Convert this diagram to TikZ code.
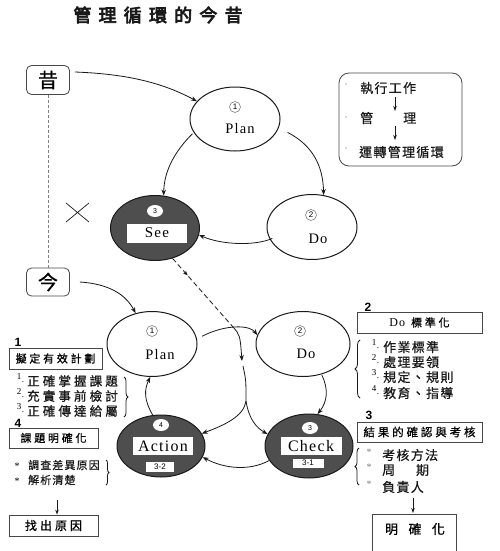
\documentclass[tikz,border=0pt]{standalone}
\usepackage{fontspec}
\setmainfont{Liberation Serif}
\newfontfamily\cjk{Noto Sans CJK TC}[FakeBold=0.8]
\newfontfamily\cjkt{Noto Sans CJK TC}[FakeBold=4,LetterSpace=40]
\newfontfamily\cjkw{Noto Sans CJK TC}[FakeBold=0.8,LetterSpace=25]
\newfontfamily\cjks{Noto Sans CJK TC}[FakeBold=0.6,LetterSpace=10]
\newfontfamily\lat{Liberation Serif}[LetterSpace=8]
\newfontfamily\arb{Liberation Sans}
\usetikzlibrary{arrows.meta,decorations.pathreplacing,decorations.markings,shapes.geometric}
\newcommand\myfs[1]{\fontsize{#1}{#1}\selectfont}
\definecolor{darkfill}{RGB}{78,78,78}
\definecolor{ink}{RGB}{25,25,25}
\begin{document}
\begin{tikzpicture}[x=1pt,y=-1pt,
  arr/.style={-{Stealth[length=6pt,width=4.5pt]}, line width=0.8pt, ink},
  ell/.style={ellipse, draw=ink, line width=1pt, inner sep=0pt},
  dark/.style={ell, fill=darkfill},
  cnum/.style={circle, draw=gray, line width=0.6pt, inner sep=0pt, minimum size=11pt, font=\arb\myfs{8}},
  wnum/.style={ellipse, fill=white, inner sep=0pt, minimum width=16pt, minimum height=12pt, font=\arb\myfs{7}},
  wrect/.style={rectangle, fill=white, inner sep=0pt},
  lbox/.style={rectangle, draw=ink!80, line width=0.8pt, inner sep=0pt},
  bnum/.style={font=\arb\bfseries\myfs{12}, inner sep=0pt},
  txt/.style={font=\cjks\myfs{13}, inner sep=0pt, anchor=west, text=ink},
  brc/.style={decorate, decoration={brace, amplitude=4pt}, line width=0.8pt, ink}
]
\useasboundingbox (0,0) rectangle (500,551);
\fill[white] (0,0) rectangle (500,551);

% title
\node[font=\cjkt\myfs{18}, text=ink] (title) at (158,15) {管理循環的今昔};

% past / present boxes
\node[lbox, rounded corners=5pt, minimum width=43pt, minimum height=29pt, font=\cjk\myfs{20}] (xi) at (48,80) {昔};
\node[lbox, rounded corners=5pt, minimum width=43pt, minimum height=28pt, font=\cjk\myfs{20}] (jin) at (48,282) {今};
\draw[gray, dashed, line width=0.8pt, dash pattern=on 3pt off 2pt] (xi.south) -- (jin.north);
\coordinate (xa) at (66,203); \coordinate (xb) at (89,222);
\coordinate (xc) at (66,222); \coordinate (xd) at (89,203);
\draw[ink, line width=0.7pt] (xa) -- (xb) (xc) -- (xd);

% top cycle
\node[ell, minimum width=90pt, minimum height=64pt] (P1) at (235,119) {};
\node[cnum] (p1n) at (235,107) {1};
\node[font=\lat\myfs{14.5}, inner sep=0pt] (p1t) at (240,129) {Plan};
\node[ell, minimum width=90pt, minimum height=65pt] (D1) at (312,227) {};
\node[cnum] (d1n) at (311,215) {2};
\node[font=\lat\myfs{14.5}, inner sep=0pt] (d1t) at (318,239) {Do};
\node[dark, minimum width=89pt, minimum height=65pt] (S1) at (155,228) {};
\node[wnum] (s1n) at (155,211) {3};
\node[wrect, minimum width=60pt, minimum height=19pt, font=\lat\myfs{15}] (s1t) at (157,233) {See};

\draw[arr] ([xshift=5pt,yshift=8pt]xi.east) .. controls (130,74) and (165,84) .. (P1.155);
\draw[arr] ([xshift=10pt,yshift=-2pt]P1.-15) .. controls (312,145) and (323,165) .. (D1.70);
\draw[arr] ([xshift=-2pt]P1.-160) .. controls (176,150) and (164,170) .. (S1.75);
\draw[arr] ([xshift=3pt]D1.-165) .. controls (255,246) and (222,245) .. (S1.-9);

% right info box
\node[lbox, rounded corners=10pt, minimum width=123pt, minimum height=93pt] (infobox) at (400.5,119.5) {};
\foreach \yy/\nm in {84/da,117/db,148/dc}{\node[circle, fill=gray!60, inner sep=0.6pt] (\nm) at (346,\yy) {};}
\node[txt] (exec) at (360,88) {執行工作};
\node[txt] (kan) at (360,118) {管};
\node[txt] (li) at (403,118) {理};
\node[txt] (run) at (359,152) {運轉管理循環};
\coordinate (ia1) at (395,97); \coordinate (ia2) at (395,111);
\coordinate (ib1) at (395,126); \coordinate (ib2) at (395,140);
\draw[arr, -{Stealth[length=5pt,width=3.5pt]}] (ia1) -- (ia2);
\draw[arr, -{Stealth[length=5pt,width=3.5pt]}] (ib1) -- (ib2);

% bottom cycle
\node[ell, minimum width=90pt, minimum height=65pt] (P2) at (152,344) {};
\node[cnum] (p2n) at (152,331) {1};
\node[font=\lat\myfs{14.5}, inner sep=0pt] (p2t) at (160,355) {Plan};
\node[ell, minimum width=94pt, minimum height=65pt] (D2) at (303,344) {};
\node[cnum] (d2n) at (300,331) {2};
\node[font=\lat\myfs{14.5}, inner sep=0pt] (d2t) at (306,354) {Do};
\node[dark, minimum width=88pt, minimum height=62pt] (A) at (161,446) {};
\node[wnum] (an) at (161,425) {4};
\node[wrect, minimum width=60pt, minimum height=18pt, font=\lat\myfs{16}] (at) at (163,446) {Action};
\node[wrect, minimum width=28pt, minimum height=10pt, font=\arb\myfs{8}] (as) at (160,467) {3-2};
\node[dark, minimum width=88pt, minimum height=64pt] (C) at (309,446) {};
\node[wnum] (cn) at (310,428) {3};
\node[wrect, minimum width=61pt, minimum height=18pt, font=\lat\myfs{16}] (ct) at (311,446) {Check};
\node[wrect, minimum width=31pt, minimum height=9pt, font=\arb\myfs{8}] (cs) at (308,463) {3-1};

\draw[arr] ([xshift=10pt]jin.east) .. controls (110,284) and (126,295) .. (P2.118);
\draw[arr] ([xshift=6pt]P2.10) .. controls (226,324) and (250,325) .. (D2.169);
\draw[arr] ([xshift=3pt]D2.-63) .. controls (329,390) and (327,402) .. (C.75);
\draw[arr] (C.200) .. controls (250,471) and (225,469) .. (A.-15);
\draw[arr] (A.105) .. controls (144,400) and (144,390) .. (P2.-93);

\coordinate (m1) at (233,327);
\coordinate (m2) at (242,361);
\coordinate (m3) at (243,366);
\coordinate (sp) at (246,401);
\draw[ink, line width=0.8pt, dash pattern=on 5pt off 3pt,
  postaction={decorate, decoration={markings, mark=at position 0.25 with {\arrow{Stealth[length=5pt,width=4pt]}}}}]
  (S1.-60) -- (m1);
\draw[arr] (m1) .. controls (240,335) .. (m2);
\draw[ink, line width=0.8pt] (m3) .. controls (246,380) .. (sp);
\draw[arr] (sp) .. controls (244,416) and (225,425) .. (A.17);
\draw[arr] (sp) .. controls (249,420) and (257,428) .. (C.164);

% left notes
\node[bnum] (n1) at (18,342) {1};
\node[lbox, minimum width=93pt, minimum height=21pt, font=\cjkw\myfs{11}] (plan) at (55.5,358.5) {擬定有效計劃};
\foreach \yy/\k/\t in {381/1/正確掌握課題, 396/2/充實事前檢討, 411/3/正確傳達給屬}{
  \node[font=\myfs{9}, inner sep=0pt] (ln\k) at (19,\yy-4) {\k};
  \node[font=\myfs{9}, inner sep=0pt] (ld\k) at (23,\yy+1) {.};
  \node[txt, font=\cjkw\myfs{12.5}] (lt\k) at (27,\yy) {\t};
}
\coordinate (lb1) at (124,377); \coordinate (lb2) at (124,417);
\draw[brc] (lb1) -- (lb2);
\node[bnum] (n4) at (18,423) {4};
\node[lbox, minimum width=89pt, minimum height=20pt, font=\cjkw\myfs{11}] (clar) at (53.5,438) {課題明確化};
\node[font=\myfs{10}, inner sep=0pt] (s1) at (17,466) {*};
\node[font=\myfs{10}, inner sep=0pt] (s2) at (17,481) {*};
\node[txt, font=\cjks\myfs{11}] (lq1) at (28,465) {調查差異原因};
\node[txt, font=\cjks\myfs{11}] (lq2) at (28,480) {解析清楚};
\coordinate (lb3) at (106,460); \coordinate (lb4) at (106,485);
\draw[brc, decoration={brace, amplitude=3pt}] (lb3) -- (lb4);
\node[lbox, minimum width=89pt, minimum height=21pt, font=\cjkw\myfs{12}] (cause) at (53.5,525.5) {找出原因};
\draw[arr, -{Stealth[length=5pt,width=3.5pt]}] (57,500) -- (cause.north -| 57,0);

% right notes
\node[bnum] (n2) at (368,307) {2};
\node[lbox, minimum width=125pt, minimum height=21pt] (dostd) at (419.5,322.5) {\lat\myfs{12}Do\hspace{6pt}\cjkw\myfs{11}標準化};
\foreach \yy/\k/\t in {347/1/作業標準, 362/2/處理要領, 377/3/規定、規則, 393/4/教育、指導}{
  \node[font=\myfs{9}, inner sep=0pt] (rn\k) at (374,\yy-4) {\k};
  \node[font=\myfs{9}, inner sep=0pt] (rd\k) at (378,\yy+1) {.};
  \node[txt, font=\cjks\myfs{13}] (rt\k) at (383,\yy) {\t};
}
\coordinate (rb1) at (360,398); \coordinate (rb2) at (360,340);
\draw[brc, decoration={brace, amplitude=5pt}] (rb1) -- (rb2);

\node[bnum] (n3) at (369,415) {3};
\node[lbox, minimum width=125pt, minimum height=20pt, font=\cjkw\myfs{11.5}] (resbox) at (419.5,432) {結果的確認與考核};
\foreach \yy/\k/\t in {455/1/考核方法, 470/2/周\hspace{1.6em}期, 487/3/負責人}{
  \node[font=\myfs{10}, text=gray, inner sep=0pt] (rs\k) at (369,\yy-3) {*};
  \node[txt, font=\cjks\myfs{13}] (rq\k) at (382,\yy) {\t};
}
\coordinate (rb3) at (359,485); \coordinate (rb4) at (359,448);
\draw[brc, decoration={brace, amplitude=4pt}] (rb3) -- (rb4);
\draw[lbox] (372,560) -- (372,514) -- (456,514) -- (456,560);
\node[font=\cjkw\myfs{13}, inner sep=0pt] (mq) at (415,529) {明\hspace{0.8em}確\hspace{0.8em}化};
\coordinate (ra1) at (413,498);
\draw[arr, -{Stealth[length=5pt,width=3.5pt]}] (ra1) -- (413,513);
\end{tikzpicture}
\end{document}
